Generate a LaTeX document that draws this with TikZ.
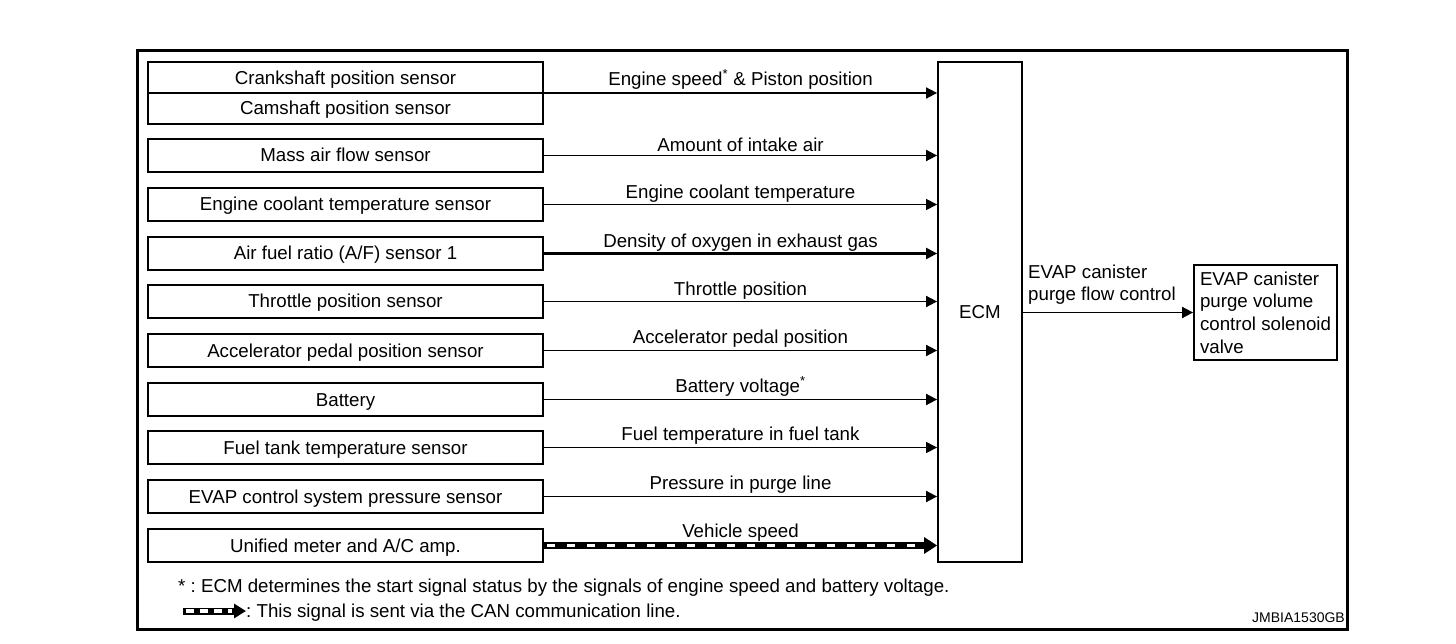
\documentclass[tikz,border=0pt]{standalone}
\usepackage{fontspec}
\setmainfont{Liberation Sans}
\usetikzlibrary{arrows.meta}
\newcommand\mainfs{\fontsize{18.7}{22.7}\selectfont}
\frenchspacing
\begin{document}
\begin{tikzpicture}[x=1pt,y=-1pt,
  box/.style={draw,line width=1.8pt,minimum width=395pt,minimum height=33pt,inner sep=0pt,
    text height=13pt,text depth=0pt,font=\mainfs},
  txt/.style={inner sep=0pt,text height=13pt,text depth=0pt,font=\mainfs},
  sig/.style={line width=1.7pt,-{Triangle[length=11pt,width=11pt]}},
  lab/.style={inner sep=0pt,outer sep=0pt,text height=13pt,text depth=0pt,font=\mainfs,anchor=south},
  canline/.style={line width=7pt,-{Triangle[length=13pt,width=16pt]}},
  candash/.style={white,line width=3.6pt,dash pattern=on 8pt off 12pt}]
\useasboundingbox (0,0) rectangle (1456,644);
\node[draw,line width=3pt,minimum width=1210pt,minimum height=578pt,inner sep=0pt] (frame) at (742.5,340) {};
% sensor boxes
\node[box,minimum height=62pt] (s1) at (345.5,93) {};
\draw[line width=1.6pt] (s1.west) -- (s1.east);
\node[txt] (t1a) at (345.5,78) {Crankshaft position sensor};
\node[txt] (t1b) at (345.5,108) {Camshaft position sensor};
\node[box] (s2) at (345.5,155.5) {Mass air flow sensor};
\node[box] (s3) at (345.5,204.5) {Engine coolant temperature sensor};
\node[box] (s4) at (345.5,253.5) {Air fuel ratio (A/F) sensor 1};
\node[box] (s5) at (345.5,301.5) {Throttle position sensor};
\node[box] (s6) at (345.5,350.5) {Accelerator pedal position sensor};
\node[box] (s7) at (345.5,399.5) {Battery};
\node[box] (s8) at (345.5,447.5) {Fuel tank temperature sensor};
\node[box] (s9) at (345.5,496.5) {EVAP control system pressure sensor};
\node[box] (s10) at (345.5,545.5) {Unified meter and A/C amp.};
% ECM
\node[draw,line width=1.8pt,minimum width=84pt,minimum height=500pt,inner sep=0pt,
  text height=13pt,text depth=0pt,font=\mainfs] (ecm) at (980,312) {ECM};
% valve
\node[draw,line width=1.8pt,minimum width=143pt,minimum height=95pt,inner sep=0pt,
  align=left,font=\mainfs] (valve) at (1265.5,312.5)
  {EVAP canister\\purge volume\\control solenoid\\valve};
% signals
\draw[sig] (s1) -- node[lab,yshift=7.8pt] (l1) {Engine speed\textsuperscript{*} \& Piston position} (s1 -| ecm.west);
\draw[sig] (s2) -- node[lab,yshift=3.8pt] (l2) {Amount of intake air} (s2 -| ecm.west);
\draw[sig,line width=1.1pt] (s3) -- node[lab,yshift=5.8pt] (l3) {Engine coolant temperature} (s3 -| ecm.west);
\draw[sig,line width=2.2pt] (s4) -- node[lab,yshift=5.8pt] (l4) {Density of oxygen in exhaust gas} (s4 -| ecm.west);
\draw[sig] (s5) -- node[lab,yshift=5.8pt] (l5) {Throttle position} (s5 -| ecm.west);
\draw[sig] (s6) -- node[lab,yshift=7pt] (l6) {Accelerator pedal position} (s6 -| ecm.west);
\draw[sig] (s7) -- node[lab,yshift=7.5pt] (l7) {Battery voltage\textsuperscript{*}} (s7 -| ecm.west);
\draw[sig,line width=1.1pt] (s8) -- node[lab,yshift=7pt] (l8) {Fuel temperature in fuel tank} (s8 -| ecm.west);
\draw[sig] (s9) -- node[lab,yshift=7pt] (l9) {Pressure in purge line} (s9 -| ecm.west);
\draw[canline] (s10.east) -- (s10 -| ecm.west) node[midway,lab,yshift=8pt] (l10) {Vehicle speed};
\draw[candash] ([xshift=3pt]s10.east) -- ([xshift=-14pt]s10 -| ecm.west);
% output
\draw[sig] (ecm.east |- valve.west) -- (valve.west);
\node[anchor=south west,inner sep=0pt,align=left,font=\mainfs] (lout) at (1028,305)
  {EVAP canister\\purge flow control};
% footnotes
\node[anchor=base west,inner sep=0pt,font=\mainfs] (fn1) at (178,592.5)
  {* : ECM determines the start signal status by the signals of engine speed and battery voltage.};
\coordinate (k1) at (183,611);
\coordinate (k2) at (246,611);
\draw[canline,-{Triangle[length=12pt,width=14pt]}] (k1) -- (k2);
\draw[candash,dash pattern=on 8pt off 6pt] ([xshift=3pt]k1) -- ([xshift=-14pt]k2);
\node[anchor=base west,inner sep=0pt,font=\mainfs] (fn2) at (k2 |- 0,617.5)
  {: This signal is sent via the CAN communication line.};
\node[anchor=base east,inner sep=0pt,font=\fontsize{14}{16}\selectfont] (code) at (1345,622) {JMBIA1530GB};
\end{tikzpicture}
\end{document}
